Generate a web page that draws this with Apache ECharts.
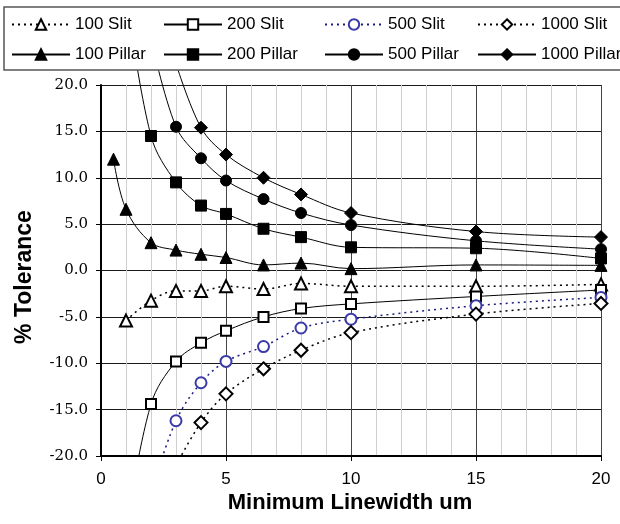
<!DOCTYPE html>
<html>
<head>
<meta charset="utf-8">
<script src="https://cdn.jsdelivr.net/npm/echarts@6/dist/echarts.min.js"></script>
<style>html,body{margin:0;padding:0;background:#fff;}#c{width:620px;height:524px;}</style>
</head>
<body>
<div id="c"></div>
<script>
// ---- data (x in um, y in % tolerance); first points of some series lie outside the y range
const seriesNames = ['100 Slit','200 Slit','500 Slit','1000 Slit','100 Pillar','200 Pillar','500 Pillar','1000 Pillar'];
const x100Slit  = [1,2,3,4,5,6.5,8,10,15,20];
const y100Slit  = [-5.4,-3.25,-2.2,-2.2,-1.7,-2.0,-1.4,-1.7,-1.7,-1.5];
const x200Slit  = [1,2,3,4,5,6.5,8,10,15,20];
const y200Slit  = [-28,-14.4,-9.8,-7.8,-6.5,-5.0,-4.1,-3.6,-2.8,-2.1];
const x500Slit  = [2,3,4,5,6.5,8,10,15,20];
const y500Slit  = [-24,-16.2,-12.1,-9.8,-8.2,-6.2,-5.25,-3.8,-2.9];
const x1000Slit = [3,4,5,6.5,8,10,15,20];
const y1000Slit = [-21,-16.4,-13.3,-10.6,-8.6,-6.7,-4.7,-3.55];
const x100Pillar  = [0.5,1,2,3,4,5,6.5,8,10,15,20];
const y100Pillar  = [12.0,6.6,3.0,2.2,1.75,1.4,0.6,0.8,0.2,0.6,0.55];
const x200Pillar  = [1,2,3,4,5,6.5,8,10,15,20];
const y200Pillar  = [30,14.5,9.5,7.0,6.1,4.5,3.6,2.5,2.4,1.3];
const x500Pillar  = [2,3,4,5,6.5,8,10,15,20];
const y500Pillar  = [25,15.5,12.1,9.7,7.7,6.2,4.9,3.2,2.3];
const x1000Pillar = [3,4,5,6.5,8,10,15,20];
const y1000Pillar = [22.3,15.4,12.5,10.0,8.2,6.2,4.2,3.6];
const xTicks = [0,5,10,15,20];
const yTicks = [-20,-15,-10,-5,0,5,10,15,20];

const xs = [x100Slit,x200Slit,x500Slit,x1000Slit,x100Pillar,x200Pillar,x500Pillar,x1000Pillar];
const ys = [y100Slit,y200Slit,y500Slit,y1000Slit,y100Pillar,y200Pillar,y500Pillar,y1000Pillar];

const styles = [
  {symbol:'emptyTriangle', size:12, color:'#000', line:'#000', type:[2,4], width:1.5, clip:true},
  {symbol:'emptyRect', size:10, color:'#000', line:'#000', type:'solid', width:1, clip:true},
  {symbol:'emptyCircle', size:11, color:'#3a3aa8', line:'#1c1c80', type:[2,4], width:1.5, clip:true},
  {symbol:'emptyDiamond', size:13, color:'#000', line:'#000', type:[2,4], width:1.5, clip:true},
  {symbol:'triangle', size:12, color:'#000', line:'#000', type:'solid', width:1, clip:false},
  {symbol:'rect', size:11, color:'#000', line:'#000', type:'solid', width:1, clip:false},
  {symbol:'circle', size:11, color:'#000', line:'#000', type:'solid', width:1, clip:false},
  {symbol:'diamond', size:13, color:'#000', line:'#000', type:'solid', width:1, clip:false}
];

const series = seriesNames.map((n,i)=>({
  name:n, type:'line', smooth:0.35, clip:styles[i].clip,
  data: xs[i].map((x,j)=>[x, ys[i][j]]),
  symbol: styles[i].symbol, symbolSize: styles[i].size,
  showAllSymbol:true,
  itemStyle:{color:styles[i].color, borderColor:styles[i].color, borderWidth:1},
  lineStyle:{color:styles[i].line, width:styles[i].width, type:styles[i].type},
  emphasis:{disabled:true},
  animation:false, z: 2
}));

const colLeft = [11,163,324,477];
const rowTop = [16,46];
const legends = seriesNames.map((n,i)=>({
  data:[n], left: colLeft[i%4], top: rowTop[Math.floor(i/4)],
  itemWidth:58, itemHeight:13, padding:0, z:20,
  textStyle:{fontSize:17, fontFamily:'Liberation Sans, Arial, sans-serif', color:'#000'},
  selectedMode:false
}));

const chart = echarts.init(document.getElementById('c'), null, {renderer:'canvas'});
chart.setOption({
  backgroundColor:'#fff',
  animation:false,
  graphic:[
    {type:'rect', z:10, shape:{x:-10, y:-60, width:700, height:130}, style:{fill:'#fff'}, silent:true},
    {type:'rect', z:11, shape:{x:4, y:7, width:700, height:63}, style:{fill:'#fff', stroke:'#555', lineWidth:1.5}, silent:true},
    {type:'text', x:25, y:277, rotation:Math.PI/2, style:{text:'% Tolerance', font:'bold 23px "Liberation Sans", Arial, sans-serif', fill:'#000', align:'center', verticalAlign:'middle'}},
    {type:'text', x:350, y:503, style:{text:'Minimum Linewidth um', font:'bold 22px "Liberation Sans", Arial, sans-serif', fill:'#000', align:'center', verticalAlign:'middle'}}
  ],
  legend: legends,
  grid:{left:101, top:85, width:500, height:371, containLabel:false},
  xAxis:{
    type:'value', min:xTicks[0], max:xTicks[xTicks.length-1], interval:5,
    axisLine:{show:true, onZero:false, lineStyle:{color:'#000', width:2}},
    axisTick:{show:true, inside:false, length:5, lineStyle:{color:'#000'}},
    axisLabel:{fontSize:17, fontFamily:'Liberation Sans, Arial, sans-serif', color:'#000', margin:15},
    splitLine:{show:true, lineStyle:{color:'#444', width:1}},
    minorTick:{show:false, splitNumber:5},
    minorSplitLine:{show:true, lineStyle:{color:'#cfcfcf', width:1}}
  },
  yAxis:{
    type:'value', min:yTicks[0], max:yTicks[yTicks.length-1], interval:5,
    axisLine:{show:true, onZero:false, lineStyle:{color:'#000', width:2}},
    axisTick:{show:true, inside:false, length:5, lineStyle:{color:'#000'}},
    axisLabel:{fontSize:15, fontFamily:'DejaVu Serif', color:'#000', margin:13,
      formatter:v=>v.toFixed(1)},
    splitLine:{show:true, lineStyle:{color:'#1a1a1a', width:1}}
  },
  series: series
});
</script>
</body>
</html>
